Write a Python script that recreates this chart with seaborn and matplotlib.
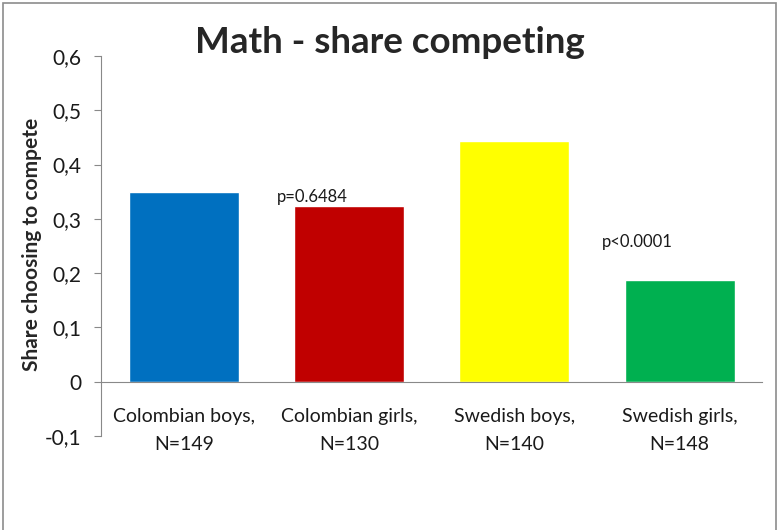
import matplotlib
matplotlib.use("Agg")
import matplotlib.pyplot as plt
import seaborn as sns
import pandas as pd
from matplotlib.patches import Rectangle
from matplotlib.ticker import FuncFormatter

# data
groups = ["Colombian boys,\nN=149", "Colombian girls,\nN=130", "Swedish boys,\nN=140", "Swedish girls,\nN=148"]
share = [0.349, 0.323, 0.443, 0.188]
colors = ["#0070C0", "#C00000", "#FFFF00", "#00B050"]
p_labels = ["p=0.6484", "p<0.0001"]
p_pos = [(0.565, 0.34), (2.53, 0.257)]

sns.set_style("white")
plt.rcParams["font.family"] = ["Lato", "DejaVu Sans"]

df = pd.DataFrame({"group": groups, "share": share})

fig = plt.figure(figsize=(7.79, 5.30), dpi=100)
ax = fig.add_axes([0.1297, 0.1774, 0.8489, 0.7169])

sns.barplot(data=df, x="group", y="share", hue="group", palette=colors,
            legend=False, width=0.667, saturation=1, ax=ax)

ax.set_ylim(-0.1, 0.6)
ax.set_xlim(-0.5, 3.5)
ax.set_yticks([-0.1, 0, 0.1, 0.2, 0.3, 0.4, 0.5, 0.6])
ax.yaxis.set_major_formatter(FuncFormatter(lambda v, _: f"{v:.1f}".replace(".", ",") if abs(v) > 1e-9 else "0"))

for s in ["top", "right"]:
    ax.spines[s].set_visible(False)
ax.spines["left"].set_color("#898989")
ax.spines["bottom"].set_color("#898989")
ax.spines["bottom"].set_position(("data", 0))

ax.tick_params(axis="y", which="both", left=True, length=5, color="#898989",
               labelsize=15, colors="#1a1a1a", pad=9)
ax.tick_params(axis="x", length=0, labelsize=14, colors="#1a1a1a", pad=19)
for lbl in ax.get_xticklabels():
    lbl.set_linespacing(1.8)

ax.set_xlabel("")
ax.set_ylabel("Share choosing to compete", fontsize=15, fontweight="bold")
ax.yaxis.set_label_coords(-0.09, 0.505)

for txt, (x, y) in zip(p_labels, p_pos):
    ax.text(x, y, txt, fontsize=12, ha="left", va="center", color="#1a1a1a")

fig.text(0.50, 0.92, "Math - share competing", fontsize=26.5, fontweight="bold",
         ha="center", va="center")

fig.patches.append(Rectangle((3 / 779, -0.05), 773 / 779, 1.0 - 3 / 530 + 0.05,
                             transform=fig.transFigure, fill=False,
                             edgecolor="#8c8c8c", linewidth=1.2))

fig.savefig("out.png", dpi=100)
